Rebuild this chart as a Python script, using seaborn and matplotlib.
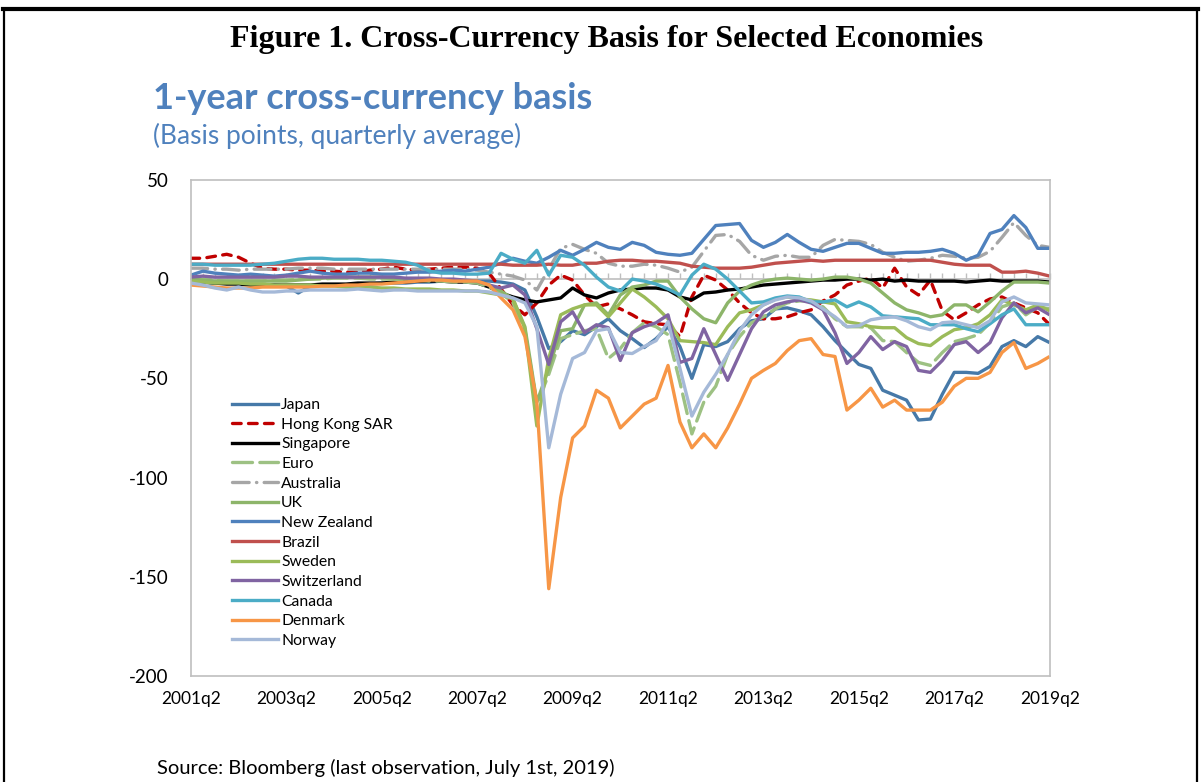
import numpy as np
import pandas as pd
import matplotlib
matplotlib.use("Agg")
import matplotlib.pyplot as plt
import seaborn as sns
from matplotlib.lines import Line2D

# quarterly axis: 2001q2 ... 2019q2 (73 quarters)
quarters = [f"{2001 + (q + 1) // 4}q{(q + 1) % 4 + 1}" for q in range(73)]
tick_labels = ["2001q2", "2003q2", "2005q2", "2007q2", "2009q2",
               "2011q2", "2013q2", "2015q2", "2017q2", "2019q2"]

# values (basis points)
japan = [-1, -1.5, -2, -2, -2, -2.5, -3, -3, -3.5, -7, -3.5, -3, -3, -3, -2.5, -2.5, -2, -2, -2, -1.5, -1.5, -1, -1, -1, -1,
         -1, -1.5, -2.5, -5.5, -19, -35, -31.5, -26, -28, -24, -20, -26, -30, -34.5, -30, -24,
         -34, -50, -33, -34, -31.5, -25, -21, -20, -15, -14.5, -16, -18,
         -24, -31, -37, -43, -45, -56, -58.5, -61, -71, -70.5, -58, -47, -47, -47.5, -44, -34, -31, -34, -29, -32]
hong_kong = [10.5, 10.5, 11.5, 12.5, 11, 8, 5.5, 5, 5, 4.5, 4.5, 4, 4, 3.5, 3.5, 4.5, 5, 6, 5, 4.5, 5, 5.5, 6, 6, 5.5,
             3, -5, -13, -18, -12, -3, 2, -0.5, -8, -14, -12.5, -15, -18, -21.5, -22.5, -23,
             -29, -9, 2, -0.5, -5.5, -12, -17, -20, -20, -19, -17, -15.5,
             -11, -8, -3, -1, 0.5, -4.5, 5.5, -4, -8, -0.5, -16, -20.5, -17, -13, -10, -9, -12, -14.5, -17, -23]
singapore = [-1, -1.5, -2, -2.5, -2.5, -3, -3, -3, -3, -3, -3, -2.5, -2.5, -2.5, -2, -2, -2, -1.5, -1.5, -1, -1, -1, -1.5, -1.5, -2,
             -4, -7, -9, -10.5, -11.5, -10.5, -9.5, -4.5, -8, -9.5, -7, -5.5, -5, -4.5, -4.5, -5.5,
             -9, -10.5, -7, -6.5, -5.5, -5, -4, -3, -2.5, -2, -1.5, -1,
             -0.5, -0.5, 0, 0, -0.5, 0, -1, -0.5, -1, -1, -1, -1, -1.5, -1, -0.5, -1, -1, -1, -1, -1.5]
euro = [0, 0, -0.5, -1, -1, -1, -1, -0.5, -0.5, 0, 0, 0, 0.5, 0.5, 0.5, 0, 0, 0, -0.5, -0.5, -1, -1, -1.5, -1.5, -2,
        -4, -7, -12, -26, -63, -48, -30, -28, -26, -25, -40, -35, -27, -22, -24, -28,
        -52, -78, -62, -54, -38, -29, -22, -19, -15, -12, -11, -11,
        -14, -20, -24, -24, -24.5, -31, -31.5, -37, -42, -43.5, -37, -31.5, -30, -28, -22, -14, -12, -18, -14, -15]
australia = [5.5, 5.5, 5, 5, 4.5, 5, 5, 5, 5, 5.5, 5.5, 5.5, 5, 5, 5, 5, 5, 5, 5, 5, 5, 5, 5, 5, 4.5,
             3.5, 2.5, 1.5, -0.5, -5.5, 5, 15.5, 17.5, 15, 13, 8, 6.5, 6.5, 7.5, 7, 5.5,
             3.5, 6, 14, 22, 22.5, 19, 12, 9.5, 11.5, 12, 11, 11,
             17, 20, 19.5, 19, 17.5, 13.5, 11, 9, 9.5, 10.5, 12, 11.5, 10.5, 11, 14, 21, 28.5, 22, 17, 16]
uk = [0, -0.5, -1, -1, -1, -1, -1, -1, -1, -0.5, 0, 0.5, 1, 1, 1, 1, 1, 0.5, 0, 0, 0, -0.5, -1, -1, -1.5,
      -3, -6, -10, -24, -62, -45, -26, -25, -13, -12, -18, -8, -4, -3, -1, -1,
      -9, -15, -20, -22, -12, -6, -3, -1, 0, 0.5, 0, -0.5,
      0, 1, 1, 0, -2, -7, -12, -15.5, -17, -19, -18, -13, -13, -16.5, -11.5, -6, -1.5, -1.5, -1.5, -2]
new_zealand = [2, 4, 3, 2.5, 2, 2.5, 2, 1.5, 2, 3, 4, 3, 2.5, 2.5, 3, 3, 2.5, 2.5, 3, 3.5, 3.5, 4, 4.5, 4, 5,
               6, 8, 10.5, 9, 8, 11, 14.5, 12, 15, 18.5, 16, 15, 18.5, 17, 13.5, 12.5,
               12, 13, 20, 27, 27.5, 28, 19.5, 16, 18.5, 22.5, 18.5, 15,
               14, 16, 18, 18, 15.5, 13, 13, 13.5, 13.5, 14, 15, 13, 9.5, 12, 23, 25, 32, 26, 15.5, 15.5]
brazil = [7.5] * 25 + \
         [7.5, 7.5, 7, 7, 7, 7.5, 7, 7, 8, 8, 9, 9.5, 9.5, 9, 9, 8.5,
          8, 6.5, 6, 5.5, 5.5, 5.5, 6, 7, 8, 8.5, 9, 9.5,
          9, 9.5, 9.5, 9.5, 9.5, 9.5, 9.5, 9.5, 9.5, 9.5, 8.5, 7.5, 7, 7, 7, 3.5, 3.5, 4, 3, 1.5]
sweden = [-1, -1.5, -2, -2, -2, -2.5, -2.5, -3, -3, -3, -3, -3.5, -3.5, -4, -4, -4, -4.5, -4.5, -5, -5, -5, -5.5, -5.5, -6, -6,
          -7, -8, -10, -25, -74, -40, -18, -15, -13, -13, -19, -12, -5, -9, -14, -20,
          -31, -31.5, -32, -33, -24, -17, -15.5, -13, -10, -9, -10, -10.5,
          -11.5, -12.5, -21.5, -22.5, -24, -24.5, -24.5, -29.5, -32.5, -33.5, -29, -25.5, -24.5, -22.5, -18, -10.5, -13, -15.5, -13, -16]
switzerland = [1, 1.5, 1, 1, 1, 1, 1, 1, 1.5, 1.5, 1, 1, 1, 1, 1, 1, 1, 1, 0.5, 0.5, 0.5, 0, 0, -0.5, -1,
               -3, -4.5, -3, -8, -25, -43, -21.5, -16.5, -27, -23, -24.5, -41, -27, -24, -22, -18,
               -42, -40, -25, -38, -51, -38, -25, -16.5, -13, -11.5, -10.5, -12,
               -15.5, -27, -42.5, -37, -29, -35.5, -31.5, -34, -46, -47, -41, -33, -31.5, -37, -32, -19.5, -12, -17, -14.5, -18]
canada = [7.5, 7.5, 7, 7, 7, 7, 7.5, 8, 9, 10, 10.5, 10.5, 10, 10, 10, 9.5, 9.5, 9, 8.5, 7, 4, 3, 3, 2.5, 2.5,
          3, 13, 10, 8, 14.5, 2, 12, 11, 7, 1, -4, -6, 0, -1, -2.5, -5,
          -8, 2, 7.5, 5, 0, -6, -12, -11.5, -9.5, -8.5, -9, -11.5,
          -11.5, -10.5, -14, -11.5, -14, -18.5, -19, -19.5, -20, -23, -23, -23, -25, -26.5, -22.5, -18, -15, -23, -23, -23]
denmark = [-3, -3.5, -4, -4.5, -4.5, -4.5, -4, -4, -4, -4, -4, -3.5, -3.5, -3, -3, -2.5, -2.5, -2, -1.5, -1, -0.5, -0.5, -1, -1, -1,
           -3, -9.5, -15.5, -29, -62, -156, -110, -80, -74, -56, -60, -75, -69, -63, -60, -43.5,
           -72, -85, -78, -85, -75, -63, -50, -46, -42.5, -36, -31, -30,
           -38, -39, -66, -61, -55, -64.5, -61, -66, -66, -66, -62, -54, -50, -50, -47, -37, -32, -45, -42.5, -39]
norway = [-2, -3, -4.5, -5.5, -4, -5.5, -6.5, -6.5, -6, -6, -5.5, -5.5, -5.5, -5.5, -5, -5.5, -6, -5.5, -5.5, -6, -6, -6, -6, -6, -6,
          -6.5, -8, -9.5, -12, -24, -85, -58, -40, -37, -26, -25, -37, -37.5, -34, -31, -21.5,
          -45, -69, -57, -48, -38, -26, -18, -13, -10.5, -9, -9.5, -11,
          -15, -19, -24, -23.5, -20.5, -19.5, -19, -21, -24, -25.5, -22, -21.5, -23, -24.5, -21, -11.5, -9, -12, -12.5, -13]

series = {
    "Japan": japan, "Hong Kong SAR": hong_kong, "Singapore": singapore, "Euro": euro,
    "Australia": australia, "UK": uk, "New Zealand": new_zealand, "Brazil": brazil,
    "Sweden": sweden, "Switzerland": switzerland, "Canada": canada, "Denmark": denmark,
    "Norway": norway,
}
colors = {
    "Japan": "#4679A8", "Hong Kong SAR": "#C00000", "Singapore": "#000000", "Euro": "#9DC183",
    "Australia": "#A6A6A6", "UK": "#8DB56A", "New Zealand": "#4F81BD", "Brazil": "#C0504D",
    "Sweden": "#9BBB59", "Switzerland": "#8064A2", "Canada": "#4BACC6", "Denmark": "#F79646",
    "Norway": "#A5B9D8",
}
dash_styles = {
    "Hong Kong SAR": (0, (2.6, 2.2)),
    "Euro": (0, (6, 2.2)),
    "Australia": (0, (5, 2.2, 0.1, 2.2)),
}

ui_font = ["Lato", "DejaVu Sans"]
blue = "#4F81BD"

fig = plt.figure(figsize=(12.01, 7.82), dpi=100)
ax = fig.add_axes([0.159, 0.1355, 0.715, 0.6345])

x = np.arange(len(quarters))
for name, vals in series.items():
    ls = dash_styles.get(name, "-")
    sns.lineplot(x=x, y=vals, ax=ax, color=colors[name], linewidth=2.4,
                 linestyle=ls, label=name, dash_capstyle="round",
                 solid_capstyle="butt", legend=False)

ax.set_xlim(0, 72)
ax.set_ylim(-200, 50)
ax.set_yticks([50, 0, -50, -100, -150, -200])
ax.set_yticklabels(["50", "0", "-50", "-100", "-150", "-200"], family=ui_font, fontsize=13.5)
ax.set_xticks(range(0, 73, 8))
ax.set_xticklabels(tick_labels, family=ui_font, fontsize=12.5)
ax.tick_params(axis="both", length=0)
ax.tick_params(axis="y", pad=16)
ax.tick_params(axis="x", pad=11)
for sp in ax.spines.values():
    sp.set_color("#BFBFBF")
    sp.set_linewidth(1.2)

# horizontal category axis crossing at zero with quarterly tick marks
ymin, ymax = ax.get_ylim()
sec = ax.secondary_xaxis((0 - ymin) / (ymax - ymin))
sec.set_xticks(x)
sec.tick_params(length=4, color="#BFBFBF", width=1, labeltop=False, labelbottom=False)
for sp in sec.spines.values():
    sp.set_color("#BFBFBF")
    sp.set_linewidth(1.2)

handles = [Line2D([], [], color=colors[n], lw=2.4, linestyle=dash_styles.get(n, "-"),
                  dash_capstyle="round") for n in series]
leg = ax.legend(handles, list(series.keys()), loc="upper left", bbox_to_anchor=(0.041, 0.573),
                frameon=False, prop={"family": ui_font, "size": 11.3},
                handlelength=2.9, handletextpad=0.2, labelspacing=0.36, borderaxespad=0)

fig.text(0.505, 0.949, "Figure 1. Cross-Currency Basis for Selected Economies",
         ha="center", va="center", family="Liberation Serif", fontweight="bold", fontsize=23)
fig.text(0.127, 0.874, "1-year cross-currency basis", ha="left", va="center",
         family=ui_font, fontweight="bold", fontsize=26, color=blue)
fig.text(0.127, 0.826, "(Basis points, quarterly average)", ha="left", va="center",
         family=ui_font, fontsize=19, color=blue)
fig.text(0.131, 0.018, "Source: Bloomberg (last observation, July 1st, 2019)", ha="left", va="center",
         family=ui_font, fontsize=14.5)

# outer frame of the figure box
fig.add_artist(Line2D([0.0025, 0.9975], [0.989, 0.989], color="black", lw=3))
fig.add_artist(Line2D([0.003, 0.003], [0.0, 0.989], color="black", lw=1.6))
fig.add_artist(Line2D([0.997, 0.997], [0.0, 0.989], color="black", lw=1.6))

fig.savefig("out.png", dpi=100)
